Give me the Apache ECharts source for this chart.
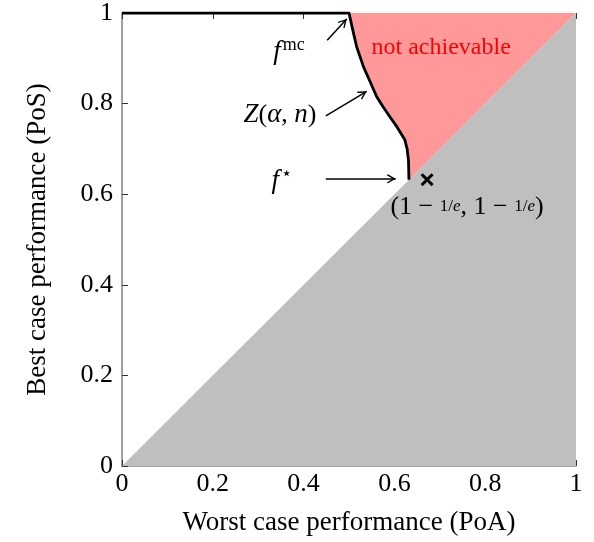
<!DOCTYPE html>
<html><head><meta charset="utf-8">
<script src="https://cdn.jsdelivr.net/npm/echarts@6/dist/echarts.min.js"></script>
<style>html,body{margin:0;padding:0;background:#fff}#c{width:594px;height:542px}</style>
</head><body><div id="c"></div>
<script>
const xTicks = [0, 0.2, 0.4, 0.6, 0.8, 1];
const yTicks = [0, 0.2, 0.4, 0.6, 0.8, 1];
const curveX = [0, 0.5, 0.51, 0.517, 0.532, 0.548, 0.561, 0.575, 0.590, 0.606, 0.623, 0.628, 0.631, 0.632];
const curveY = [1, 1, 0.955, 0.925, 0.881, 0.845, 0.815, 0.793, 0.771, 0.748, 0.720, 0.700, 0.675, 0.632];
const diagX = [0, 1];
const diagY = [0, 1];
const markerPoint = [0.672, 0.632];
const arrows = [
  {from: [0.452, 0.940], to: [0.495, 0.987]},
  {from: [0.449, 0.773], to: [0.539, 0.827]},
  {from: [0.449, 0.634], to: [0.603, 0.634]}
];
const labels = [
  {pos: [0.368, 0.914], text: '{it|f}{sup|mc}'},
  {pos: [0.348, 0.775], text: '{it|Z}{rm|(}{it|α}{rm|, }{it|n}{rm|)}'},
  {pos: [0.352, 0.629], text: '{it|f}{sup|⋆}'},
  {pos: [0.760, 0.572], text: '{rm|(1 − }{fr|1/}{fri|e}{rm|, 1 − }{fr|1/}{fri|e}{rm|)}'}
];
const regionLabel = {pos: [0.703, 0.923], text: 'not achievable'};

const FONT = 'Liberation Serif';
const curveData = curveX.map((x, i) => [x, curveY[i]]);
const pinkData = curveData.filter(p => p[0] >= 0.5).concat([[diagX[1], diagY[1]]]);
const grayData = diagX.map((x, i) => [x, diagY[i]]);
const rich = {
  it: {fontFamily: FONT, fontStyle: 'italic', fontSize: 27, color: '#000'},
  rm: {fontFamily: FONT, fontSize: 26, color: '#000'},
  sup: {fontFamily: FONT, fontSize: 18, color: '#000', verticalAlign: 'top', padding: [0, 0, 14, 2]},
  fr: {fontFamily: FONT, fontSize: 17, color: '#000'},
  fri: {fontFamily: FONT, fontStyle: 'italic', fontSize: 17, color: '#000'}
};
const arrowHead = 'path://M5,0 L5.01,0 L5,0.01 Z M5,8 L10,15 L9,16 L5,10.5 L1,16 L0,15 Z';

const chart = echarts.init(document.getElementById('c'), null, {renderer: 'canvas'});
chart.setOption({
  animation: false,
  grid: {left: 122, right: 18, top: 13, bottom: 76, containLabel: false},
  xAxis: [{
    type: 'value', min: 0, max: 1, interval: 0.2,
    name: 'Worst case performance (PoA)', nameLocation: 'middle', nameGap: 43,
    nameTextStyle: {fontFamily: FONT, fontSize: 27, color: '#000'},
    axisLine: {show: true, lineStyle: {color: '#808080', width: 1.5}},
    axisTick: {show: true, inside: true, length: 6, lineStyle: {color: '#333', width: 1}},
    axisLabel: {fontFamily: FONT, fontSize: 26, color: '#000', margin: 5,
      formatter: v => String(+v.toFixed(1))},
    splitLine: {show: false}
  }, {
    type: 'value', min: 0, max: 1, interval: 0.2, position: 'top',
    axisLine: {show: false},
    axisTick: {show: true, inside: true, length: 6, lineStyle: {color: '#333', width: 1}},
    axisLabel: {show: false}, splitLine: {show: false}
  }],
  yAxis: [{
    type: 'value', min: 0, max: 1, interval: 0.2,
    name: 'Best case performance (PoS)', nameLocation: 'middle', nameGap: 71, nameRotate: 90,
    nameTextStyle: {fontFamily: FONT, fontSize: 27, color: '#000'},
    axisLine: {show: true, lineStyle: {color: '#808080', width: 1.5}},
    axisTick: {show: true, inside: true, length: 6, lineStyle: {color: '#333', width: 1}},
    axisLabel: {fontFamily: FONT, fontSize: 26, color: '#000', margin: 9,
      formatter: v => String(+v.toFixed(1))},
    splitLine: {show: false}
  }],
  series: [
    {type: 'line', data: grayData, symbol: 'none', lineStyle: {width: 0},
      areaStyle: {color: '#bfbfbf', opacity: 1, origin: 'start'}, z: 1, silent: true},
    {type: 'line', data: pinkData, symbol: 'none', lineStyle: {width: 0},
      areaStyle: {color: '#ff9999', opacity: 1, origin: 'end'}, z: 1, silent: true},
    {type: 'line', data: curveData, symbol: 'none',
      lineStyle: {color: '#000', width: 2.8, join: 'round'}, z: 5, silent: true,
      markLine: {
        silent: true, symbol: ['none', arrowHead], symbolSize: [9, 18],
        lineStyle: {color: '#000', width: 1.5, type: 'solid', opacity: 1},
        itemStyle: {color: '#000', opacity: 1},
        label: {show: false},
        data: arrows.map(a => [{coord: a.from}, {coord: a.to}])
      }},
    {type: 'scatter', data: [markerPoint], z: 6, silent: true,
      symbol: 'path://M0,1.6 L1.6,0 L5,3.4 L8.4,0 L10,1.6 L6.6,5 L10,8.4 L8.4,10 L5,6.6 L1.6,10 L0,8.4 L3.4,5 Z',
      symbolSize: 13, itemStyle: {color: '#000', opacity: 1}},
    {type: 'scatter', symbolSize: 0, z: 7, silent: true, itemStyle: {opacity: 1, color: '#000'},
      data: labels.map(l => ({value: l.pos, label: {show: true, position: 'inside', formatter: l.text, rich: rich,
        color: '#000', textBorderWidth: 0, opacity: 1}}))},
    {type: 'scatter', symbolSize: 0, z: 7, silent: true, itemStyle: {opacity: 1},
      data: [{value: regionLabel.pos, label: {show: true, position: 'inside', formatter: regionLabel.text,
        fontFamily: FONT, fontSize: 24, color: '#ff0000', textBorderWidth: 0}}]}
  ]
});
</script></body></html>
